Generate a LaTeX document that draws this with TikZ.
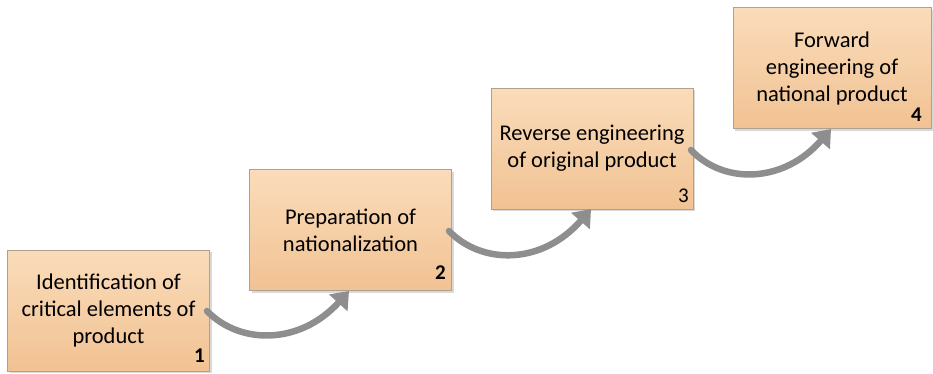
\documentclass[tikz,border=0pt]{standalone}
\usepackage{fontspec}
\setmainfont{Carlito}
\usetikzlibrary{arrows.meta,shadows}
\definecolor{boxtop}{HTML}{FADCBA}
\definecolor{boxbot}{HTML}{F1C293}
\definecolor{boxline}{HTML}{B0A090}
\definecolor{flow}{HTML}{8E8E8E}
\tikzset{
  stepbox/.style={draw=boxline, line width=0.6pt, top color=boxtop, bottom color=boxbot,
    minimum width=202pt, minimum height=121pt, inner sep=0pt, align=center,
    font=\fontsize{22.5}{27}\selectfont,
    drop shadow={shadow xshift=2pt, shadow yshift=-2pt, opacity=0.25, fill=black!60}},
  stepnum/.style={font=\fontsize{21}{22}\selectfont, anchor=base east, inner sep=0pt},
  flowarrow/.style={draw=flow, line width=6.5pt, line cap=round,
    -{Triangle[length=16pt,width=24pt]}}
}
\begin{document}
\begin{tikzpicture}[x=1pt,y=-1pt]
\useasboundingbox (0,0) rectangle (933,373);
% the four process steps, rising left to right
\node[stepbox] (s1) at (108.5,310.5) {Identification of\\critical elements of\\product};
\node[stepbox] (s2) at (350.5,230) {Preparation of\\nationalization};
\node[stepbox] (s3) at (592,148.5) {Reverse engineering\\of original product};
\node[stepbox, minimum width=198pt] (s4) at (832,68) {Forward\\engineering of\\national product};
% step numbers
\node[stepnum] (n1) at (205,362) {\textbf{1}};
\node[stepnum] (n2) at (446,279) {\textbf{2}};
\node[stepnum] (n3) at (689,202) {3};
\node[stepnum] (n4) at (922,121) {\textbf{4}};
% curved connectors between the steps
\coordinate (a1) at (207,311);
\coordinate (b1) at (349,291);
\coordinate (a2) at (449,231);
\coordinate (b2) at (591,209);
\coordinate (a3) at (691,150);
\coordinate (b3) at (831,129);
\draw[flowarrow] (a1) .. controls (240,345) and (300,345) .. (b1);
\draw[flowarrow] (a2) .. controls (482,265) and (542,265) .. (b2);
\draw[flowarrow] (a3) .. controls (724,185) and (784,183) .. (b3);
\end{tikzpicture}
\end{document}
